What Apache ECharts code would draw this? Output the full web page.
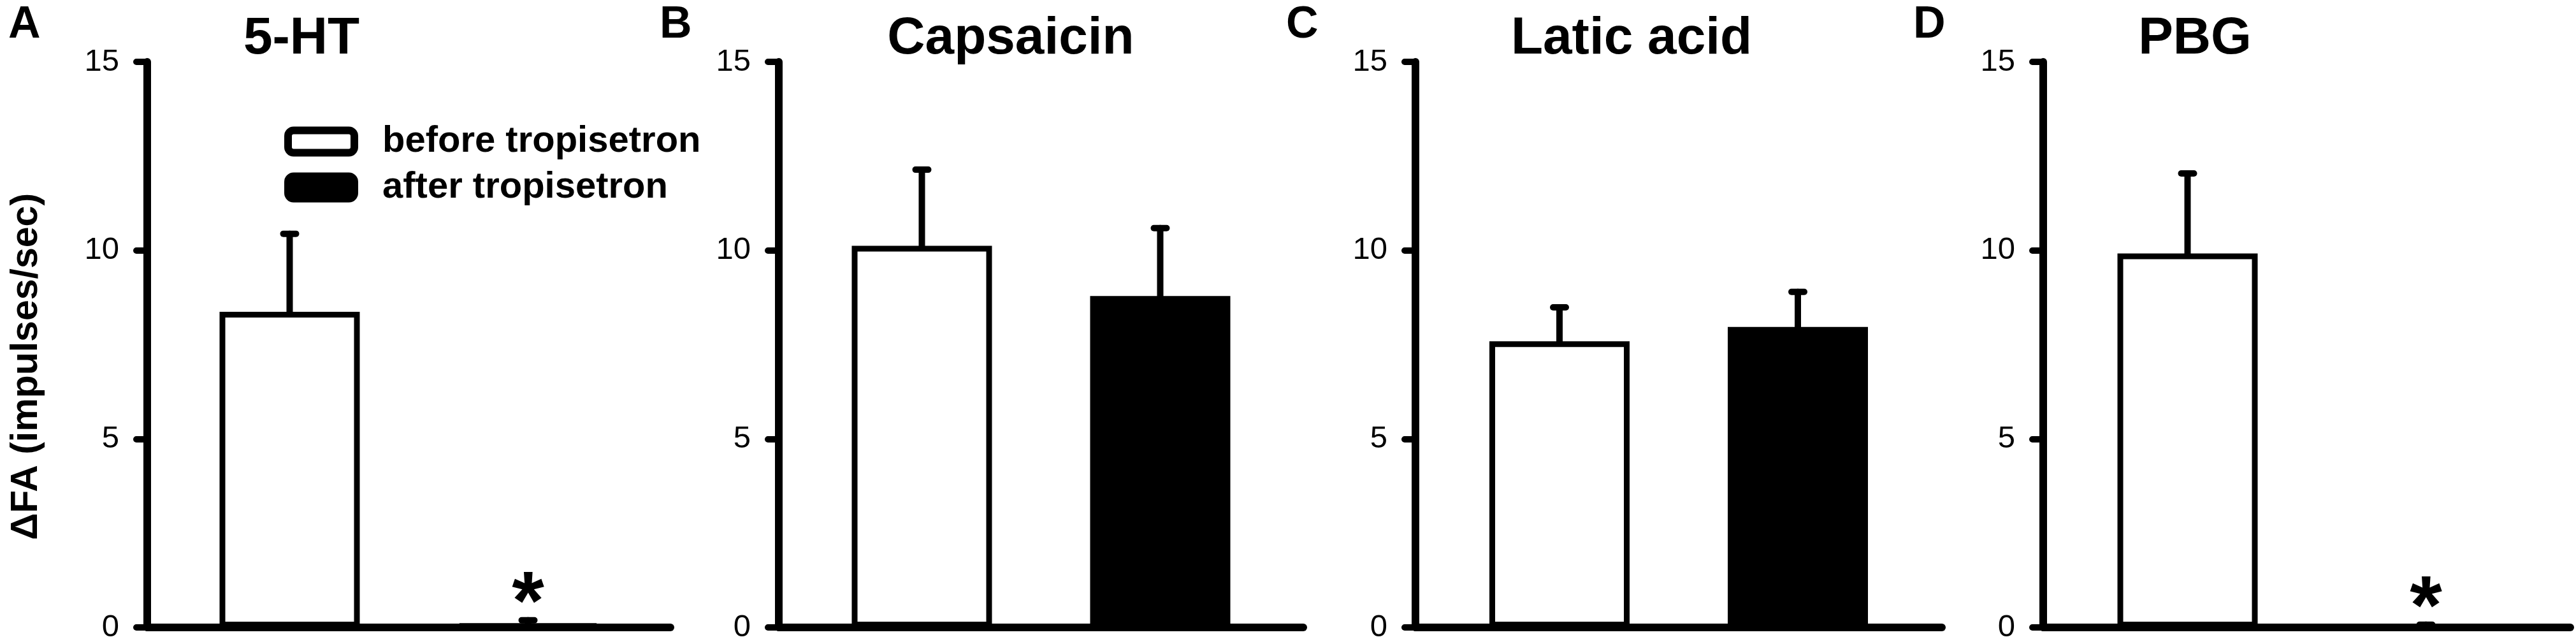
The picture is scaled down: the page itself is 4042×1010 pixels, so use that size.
<!DOCTYPE html>
<html>
<head>
<meta charset="utf-8">
<script src="https://cdn.jsdelivr.net/npm/echarts@6/dist/echarts.min.js"></script>
<style>
html, body { margin: 0; padding: 0; background: #fff; }
#main { width: 4042px; height: 1010px; }
</style>
</head>
<body>
<div id="main"></div>
<script>
// data
var panels = ['5-HT', 'Capsaicin', 'Latic acid', 'PBG'];
var letters = ['A', 'B', 'C', 'D'];
var seriesNames = ['before tropisetron', 'after tropisetron'];
var beforeMean = [8.37, 10.12, 7.59, 9.92];
var beforeSE = [2.07, 2.02, 0.90, 2.12];
var afterMean = [0.08, 8.79, 7.97, 0.00];
var afterSE = [0.11, 1.80, 0.93, 0.07];
var afterSig = [1, 0, 0, 1];
var yTicks = [0, 5, 10, 15];

// layout / style
var FONT = 'Liberation Sans, Arial, sans-serif';
var gridLeft = [231, 1222, 2221, 3206];
var gridWidth = [821, 823, 826, 827];
var titleX = [473, 1586, 2560, 3444];
var letterX = [13, 1035, 2018, 3002];
var BAR_W = 220, BAR_GAP = 154, LW = 9, ERR_W = 10;
var OFFSET = (BAR_W + BAR_GAP) / 2;

var chart = echarts.init(document.getElementById('main'));

function errItem(dir) {
  return function (params, api) {
    var cx = api.coord([api.value(0), 0])[0] + dir * OFFSET;
    var yBar = api.coord([api.value(0), api.value(1)])[1];
    var yErr = api.coord([api.value(0), api.value(1) + api.value(2)])[1];
    var st = { stroke: '#000', lineWidth: ERR_W, lineCap: 'round' };
    var kids = [
      { type: 'line', shape: { x1: cx, y1: yBar, x2: cx, y2: yErr }, style: st },
      { type: 'line', shape: { x1: cx - 10, y1: yErr, x2: cx + 10, y2: yErr }, style: st }
    ];
    if (api.value(3)) {
      kids.push({
        type: 'text',
        style: {
          text: '*', x: cx, y: yErr - 22, fill: '#000',
          font: 'bold 130px ' + FONT, align: 'center', verticalAlign: 'middle'
        }
      });
    }
    return { type: 'group', children: kids };
  };
}

var grids = [], xAxes = [], yAxes = [], series = [], graphics = [];
for (var i = 0; i < panels.length; i++) {
  grids.push({ left: gridLeft[i], width: gridWidth[i], top: 97, bottom: 26 });
  xAxes.push({
    type: 'category', gridIndex: i, data: [panels[i]],
    axisLine: { lineStyle: { color: '#000', width: 12, cap: 'round' } },
    axisTick: { show: false }, axisLabel: { show: false }
  });
  yAxes.push({
    type: 'value', gridIndex: i, min: yTicks[0], max: yTicks[yTicks.length - 1], interval: 5,
    axisLine: { show: true, lineStyle: { color: '#000', width: 12, cap: 'round' } },
    axisTick: { show: true, length: 17, lineStyle: { color: '#000', width: 10, cap: 'round' } },
    axisLabel: { color: '#000', fontSize: 49, fontFamily: FONT, margin: 44 },
    splitLine: { show: false }
  });
  series.push({
    name: seriesNames[0], type: 'bar', xAxisIndex: i, yAxisIndex: i,
    data: [beforeMean[i]], barWidth: BAR_W, barGap: (BAR_GAP / BAR_W * 100) + '%',
    itemStyle: { color: '#fff', borderColor: '#000', borderWidth: LW }
  });
  series.push({
    name: seriesNames[1], type: 'bar', xAxisIndex: i, yAxisIndex: i,
    data: [afterMean[i]], barWidth: BAR_W, barGap: (BAR_GAP / BAR_W * 100) + '%',
    itemStyle: { color: '#000', borderColor: '#000', borderWidth: LW }
  });
  series.push({
    type: 'custom', xAxisIndex: i, yAxisIndex: i, renderItem: errItem(-1),
    data: [[0, beforeMean[i], beforeSE[i], 0]], z: 5
  });
  series.push({
    type: 'custom', xAxisIndex: i, yAxisIndex: i, renderItem: errItem(1),
    data: [[0, afterMean[i], afterSE[i], afterSig[i]]], z: 5
  });
  graphics.push({
    type: 'text', x: titleX[i], y: 61,
    style: { text: panels[i], font: 'bold 82px ' + FONT, fill: '#000', align: 'center', verticalAlign: 'middle' }
  });
  graphics.push({
    type: 'text', x: letterX[i], y: 40,
    style: { text: letters[i], font: 'bold 70px ' + FONT, fill: '#000', align: 'left', verticalAlign: 'middle' }
  });
}
graphics.push({
  type: 'text', x: 42, y: 575, rotation: Math.PI / 2,
  style: { text: '\u0394FA (impulses/sec)', font: 'bold 59px ' + FONT, fill: '#000', align: 'center', verticalAlign: 'middle' }
});

var option = {
  animation: false,
  backgroundColor: '#fff',
  grid: grids,
  xAxis: xAxes,
  yAxis: yAxes,
  legend: {
    orient: 'vertical', left: 441, top: 188,
    itemWidth: 104, itemHeight: 35, itemGap: 14,
    icon: 'roundRect',
    itemStyle: { borderWidth: 12, borderColor: '#000' },
    data: seriesNames,
    textStyle: { color: '#000', fontSize: 58, fontWeight: 'bold', fontFamily: FONT, lineHeight: 58, padding: [0, 0, 0, 39] }
  },
  graphic: graphics,
  series: series
};
chart.setOption(option);
window.onresize = chart.resize;
</script>
</body>
</html>
